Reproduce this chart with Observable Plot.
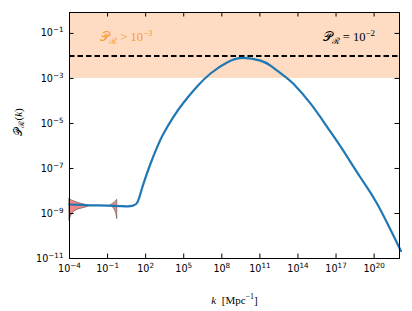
<!DOCTYPE html>
<html><head><meta charset="utf-8">
<script src="https://cdn.jsdelivr.net/npm/d3@7"></script>
<script src="https://cdn.jsdelivr.net/npm/@observablehq/plot@0.6"></script>
<style>body{margin:0;background:#fff}</style>
</head><body><div id="chart"></div>
<script>
// ---- data (log10 values) ----
const curveLogK = [-4, -3, -2, -1, 0, 0.6, 1.0, 1.33, 1.6, 1.83, 2.38, 2.93, 3.40, 4.19, 4.98, 6.09, 7.11, 8.45, 9.71, 11.05, 11.83, 12.86, 13.64, 14.98, 16.32, 17.57, 18.91, 20.25, 21.9, 22];
const curveLogP = [-8.60, -8.62, -8.64, -8.65, -8.67, -8.68, -8.65, -8.52, -8.10, -7.67, -6.79, -6.02, -5.46, -4.71, -4.08, -3.34, -2.78, -2.28, -2.09, -2.21, -2.43, -2.86, -3.24, -4.11, -5.17, -6.21, -7.39, -8.58, -10.42, -10.53];

const bandALogK = [-4, -3.8, -3.6, -3.3, -3.0, -2.7, -2.45];
const bandALoP  = [-9.31, -9.04, -8.91, -8.82, -8.78, -8.73, -8.69];
const bandAHiP  = [-8.36, -8.42, -8.47, -8.53, -8.58, -8.62, -8.67];

const bandBLogK = [-0.78, -0.6, -0.45, -0.33, -0.24];
const bandBLoP  = [-8.66, -8.72, -8.82, -8.98, -9.25];
const bandBHiP  = [-8.64, -8.58, -8.52, -8.46, -8.39];

const xTickExp = [-4, -1, 2, 5, 8, 11, 14, 17, 20];
const yTickExp = [-11, -9, -7, -5, -3, -1];
const xDomain = [1e-4, 1e22];
const yDomain = [1e-11, 0.85];

const regionLow = 1e-3;      // shaded region P_R > 1e-3
const dashedLevel = 1e-2;    // dashed line P_R = 1e-2

const annotationText = ["𝒫_{ℛ} > 10^{−3}", "𝒫_{ℛ} = 10^{−2}"];
const annotationK = [10 ** -1.58, 10 ** 15.94];
const annotationP = [10 ** -1.18, 10 ** -1.18];
const annotationColor = ["#f99a2c", "#000000"];

const xLabel = "*k*  [Mpc^{−1}]";
const yLabel = "𝒫_{ℛ}(*k*)";

// ---- build tables ----
const curve = curveLogK.map((lk, i) => ({k: 10 ** lk, p: 10 ** curveLogP[i]}));
const bandA = bandALogK.map((lk, i) => ({k: 10 ** lk, lo: 10 ** bandALoP[i], hi: 10 ** bandAHiP[i]}));
const bandB = bandBLogK.map((lk, i) => ({k: 10 ** lk, lo: 10 ** bandBLoP[i], hi: 10 ** bandBHiP[i]}));
const annotations = annotationText.map((t, i) => ({t, k: annotationK[i], p: annotationP[i], c: annotationColor[i]}));
const xTicks = xTickExp.map(e => 10 ** e);
const yTicks = yTickExp.map(e => 10 ** e);

const fmt = d => "10^{" + String(Math.round(Math.log10(d))).replace("-", "−") + "}";

const W = 412, H = 311, mL = 69, mR = 13, mT = 12, mB = 53;
const innerW = W - mL - mR, innerH = H - mT - mB;
const tickLen = 4.5;

const chart = Plot.plot({
  width: W, height: H,
  marginLeft: mL, marginRight: mR, marginTop: mT, marginBottom: mB,
  style: {fontFamily: "DejaVu Sans", fontSize: "9.6px", color: "black", background: "white", overflow: "visible"},
  x: {type: "log", domain: xDomain},
  y: {type: "log", domain: yDomain},
  marks: [
    Plot.rect([{}], {x1: () => xDomain[0], x2: () => xDomain[1], y1: () => regionLow, y2: () => yDomain[1], fill: "#fddcc3"}),
    Plot.ruleY([dashedLevel], {stroke: "black", strokeWidth: 2, strokeDasharray: "5.5,3"}),
    Plot.areaY(bandA, {x: "k", y1: "lo", y2: "hi", fill: "#f08080", fillOpacity: 0.95, stroke: "#555", strokeWidth: 0.8, strokeOpacity: 0.8, curve: "catmull-rom"}),
    Plot.areaY(bandB, {x: "k", y1: "lo", y2: "hi", fill: "#f08080", fillOpacity: 0.95, stroke: "#555", strokeWidth: 0.8, strokeOpacity: 0.8, curve: "catmull-rom"}),
    Plot.line(curve, {x: "k", y: "p", stroke: "#1f77b4", strokeWidth: 2.2, curve: "natural"}),
    Plot.text(annotations, {x: "k", y: "p", text: "t", fill: "c", textAnchor: "start", fontFamily: "Liberation Serif", fontSize: 12.5}),
    Plot.axisX({ticks: xTicks, anchor: "bottom", tickSize: 0, tickPadding: 7, tickFormat: fmt, label: null}),
    Plot.axisY({ticks: yTicks, anchor: "left", tickSize: 0, tickPadding: 6, tickFormat: fmt, label: null}),
    Plot.tickX(xTicks, {x: d => d, insetTop: innerH - tickLen, stroke: "black"}),
    Plot.tickX(xTicks, {x: d => d, insetBottom: innerH - tickLen, stroke: "black"}),
    Plot.tickY(yTicks, {y: d => d, insetRight: innerW - tickLen, stroke: "black"}),
    Plot.tickY(yTicks, {y: d => d, insetLeft: innerW - tickLen, stroke: "black"}),
    Plot.frame({stroke: "black", strokeWidth: 1}),
    Plot.text([xLabel], {frameAnchor: "bottom", dy: 45, text: d => d, fontFamily: "Liberation Serif", fontSize: 11}),
    Plot.text([yLabel], {frameAnchor: "left", dx: -51, rotate: -90, text: d => d, fontFamily: "Liberation Serif", fontSize: 11})
  ]
});

// turn _{..}, ^{..}, *..* notation into tspans
function richify(svg) {
  svg.querySelectorAll("text").forEach(t => {
    const s = t.textContent;
    if (!/[_^]\{|\*/.test(s)) return;
    const fs = parseFloat(t.getAttribute("font-size")) || parseFloat((t.closest("[font-size]") || svg).getAttribute("font-size")) || 9.6;
    while (t.firstChild) t.removeChild(t.firstChild);
    const parts = s.split(/(_\{[^}]*\}|\^\{[^}]*\}|\*[^*]*\*)/).filter(p => p.length);
    const NS = "http://www.w3.org/2000/svg";
    for (const p of parts) {
      const ts = document.createElementNS(NS, "tspan");
      if (p.startsWith("_{")) {
        ts.textContent = p.slice(2, -1);
        ts.setAttribute("font-size", (fs * 0.72).toFixed(2));
        ts.setAttribute("baseline-shift", (-fs * 0.22).toFixed(2));
      } else if (p.startsWith("^{")) {
        ts.textContent = p.slice(2, -1);
        ts.setAttribute("font-size", (fs * 0.72).toFixed(2));
        ts.setAttribute("baseline-shift", (fs * 0.42).toFixed(2));
      } else if (p.startsWith("*")) {
        ts.textContent = p.slice(1, -1);
        ts.setAttribute("font-style", "italic");
      } else {
        ts.textContent = p;
      }
      t.appendChild(ts);
    }
    t.style.whiteSpace = "pre";
  });
}
richify(chart);
document.getElementById("chart").appendChild(chart);
</script>
</body></html>
